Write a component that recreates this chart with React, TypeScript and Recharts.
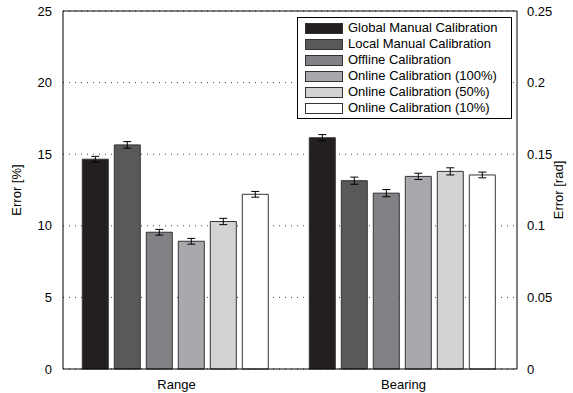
import {
  BarChart,
  Bar,
  XAxis,
  YAxis,
  CartesianGrid,
  ErrorBar,
  Legend,
  ReferenceLine,
} from "recharts";

const categories = ["Range", "Bearing"];

const seriesNames = [
  "Global Manual Calibration",
  "Local Manual Calibration",
  "Offline Calibration",
  "Online Calibration (100%)",
  "Online Calibration (50%)",
  "Online Calibration (10%)",
];

const seriesColors = ["#231f20", "#58595b", "#808285", "#a7a9ac", "#d1d3d4", "#ffffff"];

// values per series: [Range, Bearing]
const globalManual = [14.65, 16.15];
const localManual = [15.65, 13.15];
const offline = [9.55, 12.28];
const online100 = [8.92, 13.45];
const online50 = [10.3, 13.8];
const online10 = [12.2, 13.55];

// error bar half-lengths
const globalManualErr = [0.2, 0.22];
const localManualErr = [0.23, 0.25];
const offlineErr = [0.2, 0.25];
const online100Err = [0.2, 0.22];
const online50Err = [0.22, 0.25];
const online10Err = [0.2, 0.2];

const leftTicks = [0, 5, 10, 15, 20, 25];
const rightTicks = [0, 0.05, 0.1, 0.15, 0.2, 0.25];

const seriesValues = [globalManual, localManual, offline, online100, online50, online10];
const seriesErrors = [globalManualErr, localManualErr, offlineErr, online100Err, online50Err, online10Err];

const data = categories.map((name, i) => {
  const row: Record<string, string | number> = { name };
  seriesValues.forEach((vals, s) => {
    row[`s${s}`] = vals[i];
    row[`e${s}`] = seriesErrors[s][i];
  });
  return row;
});

const FONT = "'Liberation Sans', Arial, Helvetica, sans-serif";

function LegendBox() {
  return (
    <div
      style={{
        boxSizing: "border-box",
        width: 215,
        border: "1.5px solid #000",
        background: "#fff",
        padding: "2px 0",
        fontFamily: FONT,
        fontSize: 13,
        color: "#000",
      }}
    >
      {seriesNames.map((n, i) => (
        <div key={n} style={{ display: "flex", alignItems: "center", height: 16 }}>
          <div
            style={{
              boxSizing: "border-box",
              width: 38,
              height: 11,
              marginLeft: 7,
              marginRight: 5,
              background: seriesColors[i],
              border: "1px solid #333",
            }}
          />
          <span style={{ lineHeight: "16px", whiteSpace: "nowrap" }}>{n}</span>
        </div>
      ))}
    </div>
  );
}

function AxisTitle(props: any) {
  const { viewBox, value, dxFromLeft } = props;
  const x = viewBox.x + dxFromLeft;
  const y = viewBox.y + viewBox.height / 2;
  return (
    <text
      x={x}
      y={y}
      transform={`rotate(-90, ${x}, ${y})`}
      textAnchor="middle"
      dominantBaseline="central"
      fontSize={13}
      fill="#000"
    >
      {value}
    </text>
  );
}

export default function App() {
  return (
    <div style={{ position: "absolute", left: 0, top: 0, width: 573, height: 393, fontFamily: FONT, background: "#fff" }}>
      <BarChart
        width={573}
        height={393}
        data={data}
        margin={{ top: 11, right: 0, left: 0, bottom: 0 }}
        barCategoryGap="8.5%"
        barGap={6}
      >
        <CartesianGrid
          yAxisId="left"
          vertical={false}
          stroke="#444"
          strokeDasharray="1 5"
        />
        <XAxis
          dataKey="name"
          height={24}
          tickLine={false}
          tickMargin={5}
          tick={{ fontSize: 13, fill: "#000" }}
          axisLine={{ stroke: "#000" }}
        />
        <YAxis
          yAxisId="left"
          width={63}
          domain={[0, 25]}
          ticks={leftTicks}
          tickLine={false}
          tickMargin={5}
          tick={{ fontSize: 13, fill: "#000" }}
          axisLine={{ stroke: "#000" }}
          label={{ content: (p: any) => <AxisTitle {...p} value="Error [%]" dxFromLeft={16} /> }}
        />
        <YAxis
          yAxisId="right"
          orientation="right"
          width={56}
          domain={[0, 0.25]}
          allowDataOverflow
          ticks={rightTicks}
          tickLine={false}
          tickMargin={4}
          tick={{ fontSize: 13, fill: "#000" }}
          axisLine={{ stroke: "#000" }}
          label={{ content: (p: any) => <AxisTitle {...p} value="Error [rad]" dxFromLeft={41} /> }}
        />
        <ReferenceLine yAxisId="left" y={25} stroke="#000" />
        <Legend
          layout="vertical"
          align="center"
          verticalAlign="middle"
          wrapperStyle={{ top: 17, left: 297, width: 215 }}
          content={() => <LegendBox />}
        />
        {seriesNames.map((n, s) => (
          <Bar
            key={n}
            yAxisId="left"
            dataKey={`s${s}`}
            name={n}
            fill={seriesColors[s]}
            stroke="#333"
            strokeWidth={1}
            isAnimationActive={false}
          >
            <ErrorBar dataKey={`e${s}`} direction="y" width={4} stroke="#000" strokeWidth={1} />
          </Bar>
        ))}
      </BarChart>
    </div>
  );
}
